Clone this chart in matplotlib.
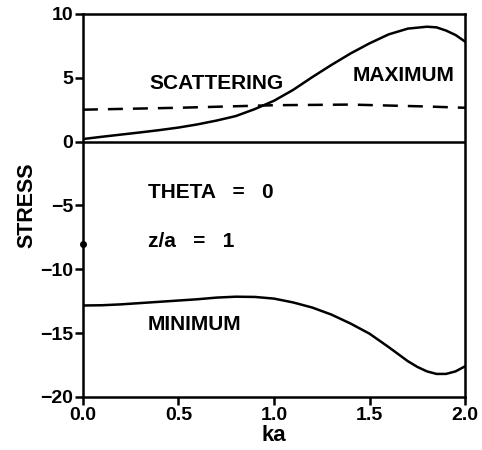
import numpy as np
import matplotlib
matplotlib.use("Agg")
import matplotlib.pyplot as plt
from matplotlib.ticker import FormatStrFormatter

plt.rcParams['font.family'] = ['Liberation Sans', 'DejaVu Sans']

# values
ka_max = [0.0, 0.1, 0.2, 0.3, 0.4, 0.5, 0.6, 0.7, 0.8, 0.9, 1.0, 1.1, 1.2,
          1.3, 1.4, 1.5, 1.6, 1.7, 1.8, 1.85, 1.9, 1.95, 2.0]
s_max = [0.2, 0.38, 0.55, 0.72, 0.9, 1.1, 1.35, 1.65, 2.0, 2.55, 3.2, 4.05, 5.05,
         6.0, 6.9, 7.7, 8.4, 8.85, 9.0, 8.95, 8.7, 8.35, 7.83]

ka_scat = [0.0, 0.5, 1.0, 1.4, 1.8, 2.0]
s_scat = [2.5, 2.65, 2.85, 2.9, 2.75, 2.65]

ka_min = [0.0, 0.1, 0.2, 0.3, 0.4, 0.5, 0.6, 0.7, 0.8, 0.9, 1.0, 1.1, 1.2, 1.3,
          1.4, 1.5, 1.6, 1.7, 1.75, 1.8, 1.85, 1.9, 1.95, 2.0]
s_min = [-12.84, -12.82, -12.75, -12.65, -12.55, -12.45, -12.35, -12.22, -12.15,
         -12.17, -12.3, -12.6, -13.0, -13.55, -14.25, -15.05, -16.1, -17.2, -17.65,
         -18.0, -18.2, -18.2, -18.0, -17.6]

ticks_x = [0.0, 0.5, 1.0, 1.5, 2.0]
ticks_y = [-20, -15, -10, -5, 0, 5, 10]

fig = plt.figure(figsize=(4.82, 4.5), dpi=100)
ax = fig.add_axes([0.172, 0.118, 0.793, 0.851])

ax.plot(ka_max, s_max, color='black', lw=1.8)
ax.plot(ka_scat, s_scat, color='black', lw=1.8, dashes=(6, 4))
ax.plot(ka_min, s_min, color='black', lw=1.8)
ax.axhline(0, color='black', lw=1.8)
ax.plot([0.0], [-8.0], 'o', color='black', ms=4, clip_on=False)

ax.set_xlim(0, 2)
ax.set_ylim(-20, 10)
ax.set_xticks(ticks_x)
ax.set_yticks(ticks_y)
ax.xaxis.set_major_formatter(FormatStrFormatter('%.1f'))
for sp in ax.spines.values():
    sp.set_linewidth(1.8)
ax.tick_params(direction='out', length=6, width=1.8, pad=1, labelsize=14)
for lab in ax.get_xticklabels() + ax.get_yticklabels():
    lab.set_fontweight('bold')

ax.set_xlabel('ka', fontsize=16, fontweight='bold', labelpad=1)
ax.set_ylabel('STRESS', fontsize=15.5, fontweight='bold', labelpad=2)

ax.text(0.70, 4.57, 'SCATTERING', fontsize=15, fontweight='bold', ha='center', va='center')
ax.text(1.68, 5.2, 'MAXIMUM', fontsize=15, fontweight='bold', ha='center', va='center')
ax.text(0.34, -4.0, 'THETA   =   0', fontsize=15, fontweight='bold', ha='left', va='center')
ax.text(0.34, -7.8, 'z/a   =   1', fontsize=15, fontweight='bold', ha='left', va='center')
ax.text(0.34, -14.35, 'MINIMUM', fontsize=15, fontweight='bold', ha='left', va='center')

fig.savefig('out.png', dpi=100)
